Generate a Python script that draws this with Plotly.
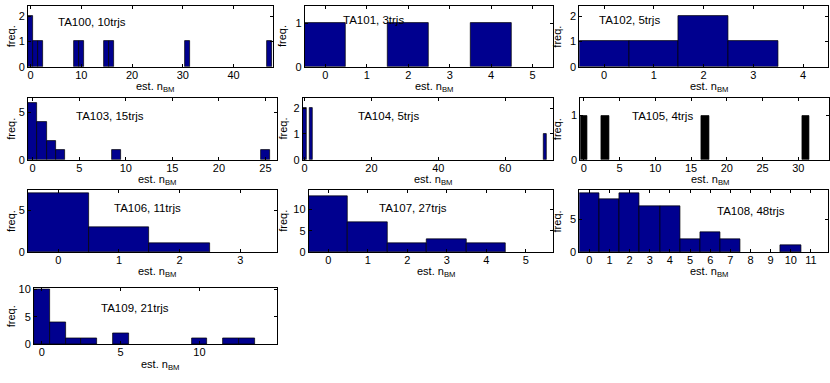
import plotly.graph_objects as go

# histogram counts per trajectory set (bin centre = est. n_BM)
ta100_bins = [0, 1, 2, 9, 10, 15, 16, 31, 47]
ta100_counts = [2, 1, 1, 1, 1, 1, 1, 1, 1]
ta101_bins = [0, 2, 4]
ta101_counts = [1, 1, 1]
ta102_bins = [0, 1, 2, 3]
ta102_counts = [1, 1, 2, 1]
ta103_bins = [0, 1, 2, 3, 9, 25]
ta103_counts = [6, 4, 2, 1, 1, 1]
ta104_bins = [0, 2, 72]
ta104_counts = [2, 2, 1]
ta105_bins = [0, 3, 17, 31]
ta105_counts = [1, 1, 1, 1]
ta106_bins = [0, 1, 2]
ta106_counts = [7, 3, 1]
ta107_bins = [0, 1, 2, 3, 4]
ta107_counts = [13, 7, 2, 3, 2]
ta108_bins = [0, 1, 2, 3, 4, 5, 6, 7, 10]
ta108_counts = [9, 8, 9, 7, 7, 2, 3, 2, 1]
ta109_bins = [0, 1, 2, 3, 5, 10, 12, 13]
ta109_counts = [10, 4, 1, 1, 2, 1, 1, 1]

labels = ["TA100, 10trjs", "TA101, 3trjs", "TA102, 5trjs", "TA103, 15trjs",
          "TA104, 5trjs", "TA105, 4trjs", "TA106, 11trjs", "TA107, 27trjs",
          "TA108, 48trjs", "TA109, 21trjs"]

x_ticks = [
    [0, 10, 20, 30, 40], [0, 1, 2, 3, 4, 5], [0, 1, 2, 3, 4],
    [0, 5, 10, 15, 20, 25], [0, 20, 40, 60], [0, 5, 10, 15, 20, 25, 30],
    [0, 1, 2, 3], [0, 1, 2, 3, 4, 5], list(range(12)), [0, 5, 10],
]
y_ticks = [
    [0, 1, 2], [0, 1], [0, 1, 2], [0, 5], [0, 1, 2], [0, 1],
    [0, 5], [0, 5, 10], [0, 5], [0, 5, 10],
]

bins = [ta100_bins, ta101_bins, ta102_bins, ta103_bins, ta104_bins,
        ta105_bins, ta106_bins, ta107_bins, ta108_bins, ta109_bins]
counts = [ta100_counts, ta101_counts, ta102_counts, ta103_counts, ta104_counts,
          ta105_counts, ta106_counts, ta107_counts, ta108_counts, ta109_counts]

# layout (pixels): axes box, axis ranges, label position
W, H = 830, 383
boxes = [  # left, right, top, bottom
    (27, 272, 1, 63.5), (304, 553, 1, 63.5), (579, 828, 1, 63.5),
    (27, 276, 95.7, 159.3), (302, 553, 95.7, 159.3), (580, 829, 95.7, 159.3),
    (27, 276, 190.7, 254.3), (308, 553, 190.7, 254.3), (579, 828, 190.7, 254.3),
    (33, 276, 291.7, 349.3),
]
x_ranges = [(-0.5, 47.7), (-0.5, 5.5), (-0.5, 4.5), (-0.5, 26.2), (-0.6, 74.4),
            (-0.5, 34.3), (-0.5, 3.6), (-0.5, 5.7), (-0.5, 11.85), (-0.5, 14.9)]
y_ranges = [(0, 2.4), (0, 1.4), (0, 2.4), (0, 6.5), (0, 2.4), (0, 1.4),
            (0, 7.4), (0, 14.5), (0, 9.4), (0, 10.2)]
label_pos = [(55, 18), (340, 15), (597, 15), (73, 114), (355, 114), (630, 114),
             (111, 209), (376, 209), (715, 212), (98, 312)]
ylab_x = [10, 282, 557]

navy = "rgb(0,0,143)"
font = dict(family="Liberation Sans, Arial, sans-serif", size=11, color="black")
label_font = dict(font, size=11.5)

fig = go.Figure()
annotations = []
layout = {}
for i in range(10):
    sfx = "" if i == 0 else str(i + 1)
    left, right, top, bottom = boxes[i]
    color = "black" if i == 5 else navy
    fig.add_trace(go.Bar(
        x=bins[i], y=counts[i], width=1,
        marker=dict(color=color, line=dict(color="black", width=0.7)),
        xaxis="x" + sfx, yaxis="y" + sfx, showlegend=False,
    ))
    common = dict(showline=True, linecolor="black", linewidth=0.8, mirror="ticks",
                  ticks="inside", ticklen=3, tickwidth=0.8, tickcolor="black",
                  showgrid=False, zeroline=False, tickfont=font, fixedrange=True)
    layout["xaxis" + sfx] = dict(
        common, domain=[left / W, right / W], range=list(x_ranges[i]),
        tickvals=x_ticks[i], anchor="y" + sfx, ticklabelstandoff=-2)
    layout["yaxis" + sfx] = dict(
        common, domain=[1 - bottom / H, 1 - top / H], range=list(y_ranges[i]),
        tickvals=y_ticks[i], anchor="x" + sfx)

    lx, ly = label_pos[i]
    annotations.append(dict(text=labels[i], x=lx / W, y=1 - ly / H, xref="paper",
                            yref="paper", xanchor="left", yanchor="middle",
                            showarrow=False, font=label_font))
    annotations.append(dict(text="est. n<sub>BM</sub>", x=((left + right) / 2 + 5) / W,
                            y=1 - (bottom + 21) / H, xref="paper", yref="paper",
                            xanchor="center", yanchor="middle", showarrow=False,
                            font=font))
    annotations.append(dict(text="freq.", x=ylab_x[i % 3] / W,
                            y=1 - (top + bottom) / 2 / H, xref="paper", yref="paper",
                            xanchor="center", yanchor="middle", textangle=-90,
                            showarrow=False, font=font))

fig.update_layout(
    width=W, height=H, margin=dict(l=0, r=0, t=0, b=0),
    plot_bgcolor="white", paper_bgcolor="white",
    bargap=0, annotations=annotations, **layout,
)
# drop the browser's default 8px body margin so the figure sits at (0, 0)
fig.write_html("out.html", config={"displayModeBar": False},
               post_script="document.body.style.margin='0';")
